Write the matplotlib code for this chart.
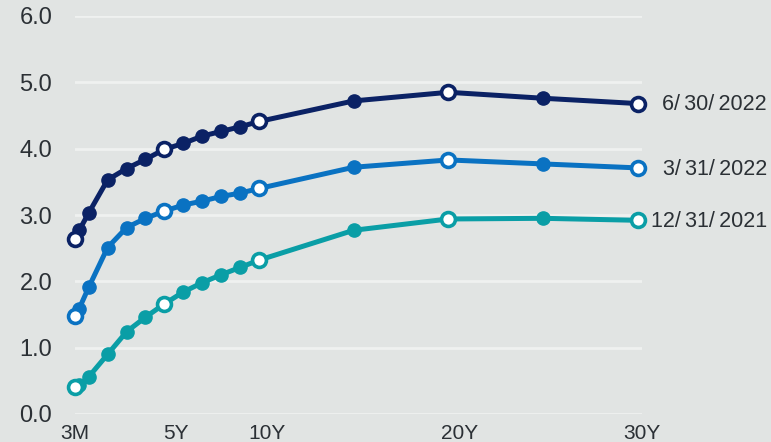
import matplotlib
matplotlib.use("Agg")
import matplotlib.pyplot as plt

plt.rcParams['font.family'] = ['Liberation Sans', 'DejaVu Sans']

maturities = [0.25, 0.5, 1, 2, 3, 4, 5, 6, 7, 8, 9, 10, 15, 20, 25, 30]
open_maturities = [0.25, 5, 10, 20, 30]

y_jun22 = [2.64, 2.77, 3.03, 3.53, 3.70, 3.84, 3.99, 4.08, 4.19, 4.26, 4.33, 4.41, 4.72, 4.85, 4.76, 4.68]
y_mar22 = [1.48, 1.59, 1.91, 2.51, 2.81, 2.95, 3.06, 3.15, 3.21, 3.28, 3.33, 3.40, 3.72, 3.83, 3.77, 3.71]
y_dec21 = [0.40, 0.43, 0.56, 0.90, 1.24, 1.46, 1.66, 1.84, 1.98, 2.10, 2.21, 2.32, 2.77, 2.94, 2.95, 2.92]

series_labels = ["6/\u200930/\u20092022", "3/\u200931/\u20092022", "12/\u200931/\u20092021"]
colors = ["#0b2265", "#0a72c2", "#0a9ea6"]

x_tick_labels = ["3M", "5Y", "10Y", "20Y", "30Y"]
x_tick_pos = [0.25, 5.6, 10.4, 20.6, 30.2]
y_ticks = [0, 1, 2, 3, 4, 5, 6]

bg = "#e1e4e3"
grid_c = "#eff1f0"
text_c = "#2b3035"

fig = plt.figure(figsize=(7.71, 4.42), dpi=100)
fig.patch.set_facecolor(bg)
ax = fig.add_axes([74.5 / 771, 28 / 442, 567 / 771, 398 / 442])
ax.set_facecolor(bg)

for ys, lab, c in zip([y_jun22, y_mar22, y_dec21], series_labels, colors):
    ax.plot(maturities, ys, color=c, lw=3.6, marker='o', ms=9.5, mfc=c, mec=c,
            solid_capstyle='round', clip_on=False, zorder=3)
    ox = [m for m in maturities if m in open_maturities]
    oy = [v for m, v in zip(maturities, ys) if m in open_maturities]
    ax.plot(ox, oy, ls='none', marker='o', ms=10, mfc='white', mec=c, mew=2.6,
            clip_on=False, zorder=4)
    ax.annotate(lab, xy=(maturities[-1], ys[-1]), xycoords='data',
                xytext=(767, -1), textcoords=('figure pixels', 'offset points'),
                ha='right', va='center', fontsize=15.5, color=text_c,
                annotation_clip=False)

ax.set_xlim(0.25, 30)
ax.set_ylim(0, 6)
ax.set_yticks(y_ticks)
ax.set_yticklabels([f"{v:.1f}" for v in y_ticks])
ax.set_xticks(x_tick_pos)
ax.set_xticklabels(x_tick_labels)
ax.tick_params(axis='y', length=0, pad=16, labelsize=17, colors=text_c)
ax.tick_params(axis='x', length=0, pad=7, labelsize=15, colors=text_c)
ax.yaxis.grid(True, color=grid_c, lw=2)
ax.xaxis.grid(False)
ax.set_axisbelow(True)
for s in ax.spines.values():
    s.set_visible(False)

fig.savefig("out.png", dpi=100, facecolor=bg)
